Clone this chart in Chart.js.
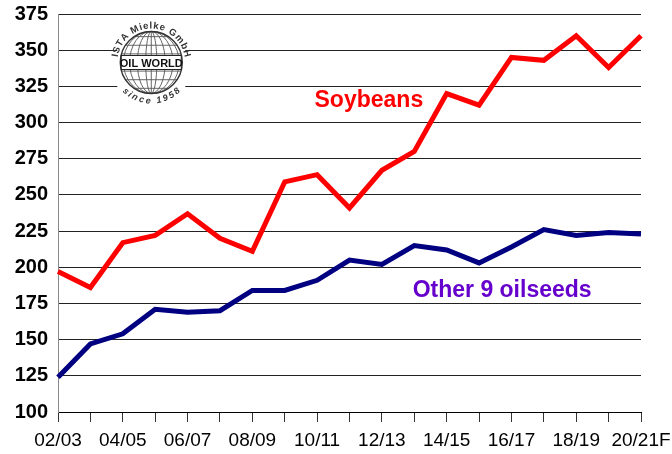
<!DOCTYPE html>
<html>
<head>
<meta charset="utf-8">
<script src="https://cdn.jsdelivr.net/npm/chart.js@4/dist/chart.umd.min.js"></script>
<style>
  html, body { margin: 0; padding: 0; background: #ffffff; }
  #wrap { width: 672px; height: 454px; }
</style>
</head>
<body>
<div id="wrap"><canvas id="oilChart" width="672" height="454"></canvas></div>
<script>
// seasons (x axis), only every other one gets a label
const seasons = ['02/03', '03/04', '04/05', '05/06', '06/07', '07/08', '08/09', '09/10', '10/11',
  '11/12', '12/13', '13/14', '14/15', '15/16', '16/17', '17/18', '18/19', '19/20', '20/21F'];

// Mn t
const soybeans = [197, 186, 217, 222, 237, 220, 211, 259, 264, 241, 267, 280, 320, 312, 345, 343, 360, 338, 360];
const otherOilseeds = [124, 147, 154, 171, 169, 170, 184, 184, 191, 205, 202, 215, 212, 203, 214, 226, 222, 224, 223];

const yMin = 100, yMax = 375, yStep = 25;

const FONT = '"Liberation Sans", Arial, Helvetica, sans-serif';

// text along an arc, chars placed by their measured widths, centred on angle mid
function arcText(ctx, text, cx, cy, radius, mid, spacing, bottom) {
  const widths = [...text].map(ch => ctx.measureText(ch).width + spacing);
  const total = widths.reduce((a, b) => a + b, 0);
  const dir = bottom ? -1 : 1;
  let a = mid - dir * total / 2 / radius;
  ctx.textAlign = 'center';
  [...text].forEach((ch, i) => {
    const ac = a + dir * widths[i] / 2 / radius;
    ctx.save();
    ctx.translate(cx + radius * Math.cos(ac), cy + radius * Math.sin(ac));
    ctx.rotate(bottom ? ac - Math.PI / 2 : ac + Math.PI / 2);
    ctx.fillText(ch, 0, 0);
    ctx.restore();
    a += dir * widths[i] / radius;
  });
}

function drawLogo(ctx, cx, cy, r) {
  ctx.save();
  ctx.fillStyle = '#ffffff';
  ctx.fillRect(cx - r - 3, cy - r - 12, 2 * r + 6, 2 * r + 24);

  ctx.strokeStyle = '#555';
  ctx.lineWidth = 0.9;
  // parallels
  for (let k = -3; k <= 3; k++) {
    const dy = k * r / 3.6;
    const hw = Math.sqrt(r * r - dy * dy);
    ctx.beginPath();
    ctx.moveTo(cx - hw, cy + dy);
    ctx.lineTo(cx + hw, cy + dy);
    ctx.stroke();
  }
  // meridians
  [0.18, 0.45, 0.7, 0.9].forEach(f => {
    ctx.beginPath();
    ctx.ellipse(cx, cy, r * f, r, 0, 0, Math.PI * 2);
    ctx.stroke();
  });
  ctx.beginPath();
  ctx.moveTo(cx, cy - r);
  ctx.lineTo(cx, cy + r);
  ctx.stroke();
  ctx.lineWidth = 1.4;
  ctx.strokeStyle = '#333';
  ctx.beginPath();
  ctx.arc(cx, cy, r, 0, Math.PI * 2);
  ctx.stroke();

  // name plate
  ctx.fillStyle = '#ffffff';
  ctx.fillRect(cx - r + 1, cy - 7, 2 * r - 2, 14);
  ctx.strokeStyle = '#222';
  ctx.lineWidth = 1;
  ctx.strokeRect(cx - r + 1, cy - 7, 2 * r - 2, 14);
  ctx.fillStyle = '#111';
  ctx.font = 'bold 11px ' + FONT;
  ctx.textAlign = 'center';
  ctx.textBaseline = 'middle';
  ctx.fillText('OIL WORLD', cx, cy + 1);

  ctx.fillStyle = '#333';
  ctx.font = 'bold 9.5px ' + FONT;
  ctx.textBaseline = 'alphabetic';
  arcText(ctx, 'ISTA Mielke GmbH', cx, cy, r + 3, -Math.PI / 2, 0.8, false);
  ctx.textBaseline = 'top';
  ctx.font = 'italic bold 9px ' + FONT;
  arcText(ctx, 'since 1958', cx, cy, r + 3, Math.PI / 2, 1, true);
  ctx.restore();
}

const overlayPlugin = {
  id: 'overlay',
  afterDraw(chart) {
    const ctx = chart.ctx;
    const xs = chart.scales.x, ys = chart.scales.y;
    drawLogo(ctx, xs.getPixelForValue(2.88), ys.getPixelForValue(341.5), 31);

    ctx.save();
    ctx.textAlign = 'left';
    ctx.textBaseline = 'alphabetic';
    ctx.font = 'bold 23px ' + FONT;
    ctx.fillStyle = '#ff0000';
    ctx.fillText('Soybeans', xs.getPixelForValue(7.92), ys.getPixelForValue(310.7));
    ctx.fillStyle = '#6600cc';
    ctx.fillText('Other 9 oilseeds', xs.getPixelForValue(10.95), ys.getPixelForValue(179.4));
    ctx.restore();
  }
};

new Chart(document.getElementById('oilChart'), {
  type: 'line',
  plugins: [overlayPlugin],
  data: {
    labels: seasons,
    datasets: [
      {
        label: 'Soybeans',
        data: soybeans,
        borderColor: '#ff0000',
        borderWidth: 5,
        pointRadius: 0,
        tension: 0,
        borderJoinStyle: 'miter',
        fill: false
      },
      {
        label: 'Other 9 oilseeds',
        data: otherOilseeds,
        borderColor: '#000080',
        borderWidth: 5,
        pointRadius: 0,
        tension: 0,
        borderJoinStyle: 'miter',
        fill: false
      }
    ]
  },
  options: {
    responsive: false,
    animation: false,
    layout: { padding: { top: 14, right: 31, bottom: 0, left: 0 } },
    plugins: {
      legend: { display: false },
      tooltip: { enabled: false }
    },
    scales: {
      x: {
        offset: false,
        grid: {
          drawOnChartArea: false,
          drawTicks: true,
          tickLength: 10,
          color: '#333',
          lineWidth: 1
        },
        border: { color: '#000', width: 1 },
        ticks: {
          autoSkip: false,
          maxRotation: 0,
          minRotation: 0,
          padding: 7,
          color: '#000',
          font: { family: FONT, size: 19 },
          callback: function (val, i) { return i % 2 === 0 ? seasons[i] : ''; }
        },
        afterFit(scale) {
          scale.height = 42;
          scale.paddingLeft = 0;
          scale.paddingRight = 0;
        }
      },
      y: {
        min: yMin,
        max: yMax,
        grid: {
          drawTicks: false,
          color: '#222',
          lineWidth: 1
        },
        border: { color: '#888', width: 1 },
        ticks: {
          stepSize: yStep,
          padding: 10,
          color: '#000',
          font: { family: FONT, size: 20, weight: 'bold' }
        },
        afterFit(scale) {
          scale.width = 58;
          scale.paddingTop = 0;
          scale.paddingBottom = 0;
        }
      }
    }
  }
});
</script>
</body>
</html>
